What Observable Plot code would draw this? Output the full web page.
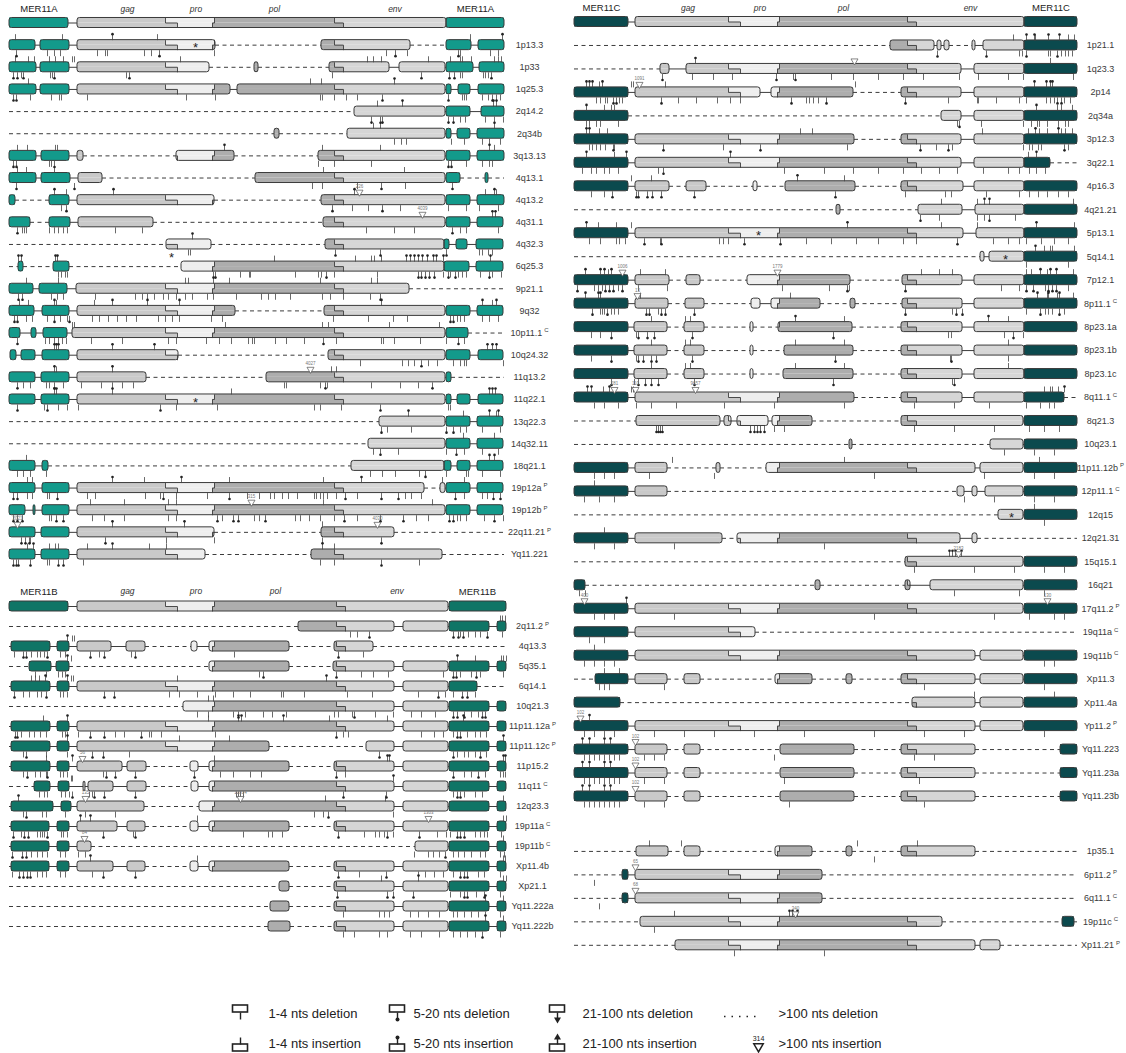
<!DOCTYPE html>
<html>
<head>
<meta charset="utf-8">
<script src="https://cdn.jsdelivr.net/npm/d3@7"></script>
<script src="https://cdn.jsdelivr.net/npm/@observablehq/plot@0.6"></script>
<style>
  body { margin: 0; background: #fff; }
  #fig { position: relative; width: 1126px; height: 1053px; font-family: "Liberation Sans", Arial, sans-serif; }
  #fig svg { position: absolute; background: transparent !important; overflow: visible; }
</style>
</head>
<body>
<div id="fig"></div>
<script>
// ---------------------------------------------------------------------------
// Consensus layout of each family (positions along the aligned consensus).
// top / bottom: boundaries gag|pro, pro|pol, pol|env in the upper / lower half
// of a box (the stepped junctions of the reading frames).
// ---------------------------------------------------------------------------
const consensusA = {ltrEnd: 59, intStart: 68, intEnd: 437, end: 495, top: [156, 205, 325], bottom: [168, 203, 334]};
const consensusB = {ltrEnd: 59, intStart: 68, intEnd: 439, end: 497, top: [156, 205, 327], bottom: [168, 203, 336]};
const consensusC = {ltrEnd: 54, intStart: 61, intEnd: 450, end: 503, top: [154, 205, 333], bottom: [166, 203, 342]};

// Segments: "start-end" pieces; "," = short join, "|" = >100 nts deletion (dashed)
// Indels: u/U/a = insertion 1-4 / 5-20 / 21-100 nts (above), d/D/v = deletion (below),
// t<pos>:<n> = insertion >100 nts, * = stop codon inside the box, _ = stop codon below.
const headerA = "0-59,68-437,437-495";
const headerB = "0-59,68-439,440-497";
const headerC = "0-54,61-450,450-503";

// ---------------- MER11A ----------------
const labelsA = ["1p13.3","1p33","1q25.3","2q14.2","2q34b","3q13.13","4q13.1","4q13.2","4q31.1","4q32.3","6q25.3","9p21.1","9q32","10p11.1^C","10q24.32","11q13.2","11q22.1","13q22.3","14q32.11","18q21.1","19p12a^P","19p12b^P","22q11.21^P","Yq11.221"];
const segmentsA = [
  "0-26,31-60,68-206|312-401|437-462,469-495",
  "0-27,31-60,68-200|245-249|320-380,390-436,437-464,470-495",
  "0-27,31-60,68-221,228-436,437-442,449-461,469-495",
  "345-436,437-461,472-495",
  "265-270|338-436,437-442,448-461,468-495",
  "0-27,32-60,68-74|167-225|309-436,437-461,468-495",
  "0-27,32-61,69-93|246-436,437-451|476-479",
  "0-6|40-60,68-205|312-436,437-461,468-495",
  "0-21|40-61,69-144|314-436,437-461,468-494",
  "157-202|316-435,435-440,447-458,467-494",
  "9-14|44-60|172-435,435-460,467-494",
  "0-24,30-58,67-400",
  "0-25,33-60,68-226|315-436,437-461,468-494",
  "0-11,22-27,34-58,63-436,437-459",
  "1-7,12-26,33-60,68-169|319-436,437-461,469-494",
  "0-26,32-60,68-137|257-436,437-442",
  "0-26,32-60,68-436,437-442,448-461,469-494",
  "370-436,437-461,468-494",
  "359-436,437-461,468-494",
  "0-26,33-39|342-435,435-442,448-461,468-494",
  "0-26,33-60,68-415|431-436,437-461,468-494",
  "0-16,24-26,33-60,68-436,437-461,468-494",
  "0-26,32-60,68-205|312-385",
  "0-26,32-60,68-196|302-433"
];
const indelsA = [
  "u6 u53 U103 u148 u461 U493 D7 d38 d45 d51 d88 d96 d98 d135 d142 D150 d205 d377 D386 d398 D449 d451 d481 d489 *186",
  "u6 u19 u25 u40 u46 u54 u63 u65 u171 u358 u364 u372 u419 u441 u451 u453 u462 u485 u489 u492 D4 D8 d12 D14 d41 d43 D45 d117 D120 d323 D412 D440 D445 d451 d453 d474 d476 d479 D482",
  "u19 u301 u312 U385 D4 D7 d21 d42 d50 d52 d78 d177 d206 d311 d313 d325 d337 d348 D373 D439 d453 d455 d457 d473 d479 D483 d487 d491",
  "u368 U393 U484 U487 D362 d371 D373 D439 D444 d451 d456 d476 d485 d494",
  "u364 U371 U485 d385 d392 d397 d442 d455 d473 d480 d491",
  "u8 u18 u46 u48 U215 u313 u371 U480 u485 D4 D7 d40 d42 d45 d309 d325 d362 D439 D442 d457 d473 d480 d483",
  "u8 u17 U45 u314 u395 D7 D65 d303 d313 d348 D372 d396 D443",
  "U45 u57 U104 U345 t350:226 u476 U485 u487 d52 D57 D323 d343 d359 D373 d391 d439 d457 d470 d489",
  "t413:4039 U483 U486 D8 d13 d15 d17 d40 d45 d49 d54 d58 d106 d133 d357 d385 d405 D443 d451 d457 d489",
  "U183 d179 d181 D326 D371 D437 d470 d473 d479 d483 _162",
  "U9 U12 U46 U48 u265 u346 u362 u365 u372 U397 U401 U405 U409 U413 U418 U424 U427 U434 U481 d49 d52 d56 d58 D204 D206 d231 d240 d241 d286 d309 d312 D317 d325 d368 D409 D412 D416 D420 D425 d434 D439 d441 D446 d449 d453 d457 d471 D480 d483 d492",
  "u17 u49 u176 u179 u204 u220 u311 u362 u368 D9 D13 d42 d48 d54 d86 d126 d133 d138 d145 d154 d159 d167 d176 d183 d198 d204 d227 d252 d259 d266 d281 d313 d321 d334 d361 D371",
  "u10 u19 U45 u47 u85 U103 U138 U170 U372 U473 u483 U487 D5 D8 d17 d23 d38 D45 d51 d58 D60 d83 d90 d99 d108 d117 d127 d149 d156 d163 d170 d202 d213 d324 d359 d384 d398 D441 D444 d448 d451 d455 d473 d480 d489",
  "u63 u65 u216 u313 u319 u380 u430 D8 d36 d40 d45 d49 d53 d57 d82 d113 d159 d167 d197 d210 d222 d239 d243 d245 d266 d277 d295 D314 d327 d372 d374 d385 d411 d437 D449 d455",
  "U45 U47 U49 U103 U145 U478 U483 U487 d351 d393 d399 d405 D412 d419 d428 d444 d451 d455 d457 d494",
  "U45 u47 U103 t301:4027 u322 u327 D8 d14 d21 d37 d40 D45 d54 d72 d92 d103 d113 d124 d275 d277 d311 D316 d318 d362 d391 d409 D423",
  "U45 U47 U103 u222 U480 U483 U486 D8 d35 D38 d49 d58 d69 D151 d167 d208 d305 d311 d332 D371 d439 d441 *186",
  "U399 u454 U480 u487 U489 D372 d378 d402 D437 D444 d451 d457 d473 d491",
  "u454 u485 d364 D371 d389 d437 D447 d455 d473 d489",
  "u17 U480 U485 d8 d14 d21 d37 d361 d373 d386 d410 D416 d437 d457 d459 d473 d491",
  "u18 u23 U103 u135 U172 u220 u314 U352 u433 u455 D4 D8 d18 d23 d38 d40 D48 d78 d86 d136 d151 D154 d167 d198 D220 d238 d250 d261 d265 d273 d279 d288 d305 d307 d311 d314 d318 d327 D336 d348 D372 D389 d396 d402 d412 D446 d455 d473 d478 D484 D491",
  "u81 u115 u159 u167 t242:315 u314 u423 D4 D8 D13 d40 d42 D47 D54 d83 d95 d115 d159 d167 D208 d213 D224 D229 d245 d250 D256 d286 d291 d300 d311 d325 D335 d348 D371 D394 d407 d419 D440 D444 d448 d451 d457 d475 D485 d494",
  "t8:2021 U103 U175 u313 t368:4030 D12 D16 D20 d21 D96 d157 d205 D313 D372",
  "u18 U24 u40 u46 u49 u78 U103 u140 u157 u313 u325 D4 D7 D9 D21 d38 d40 D49 D54 d74 d311 d325 D372 d410"
];

// ---------------- MER11B ----------------
const labelsB = ["2q11.2^P","4q13.3","5q35.1","6q14.1","10q21.3","11p11.12a^P","11p11.12c^P","11p15.2","11q11^C","12q23.3","19p11a^C","19p11b^C","Xp11.4b","Xp21.1","Yq11.222a","Yq11.222b"];
const segmentsB = [
  "289-385,394-439,440-480,488-497",
  "2-41,48-60,68-102,117-136|182-188,200-280|325-364",
  "20-42,47-60|200-280|324-385,394-439,440-480,488-497",
  "2-41,48-60,68-385,394-439,440-468",
  "174-385,394-439,440-480,488-497",
  "2-41,48-60,68-385,394-439,440-480,488-497",
  "2-41,48-60,68-260|357-385,394-439,440-480,488-497",
  "2-41,48-60,68-113,118-137|181-189,200-280|325-385,394-439,440-480,488-497",
  "25-41,49-60,74-76,79-104,118-137|182-189,200-385,394-439,440-480,488-497",
  "2-44,52-62,68-135|190-385,394-439,440-480,488-497",
  "2-40,48-60,68-108,118-136|181-189,200-280|325-385,394-439,440-480,488-497",
  "2-40,48-60,68-82|406-439,440-480,488-497",
  "2-40,48-60,68-104,118-136|181-189,200-280|325-385,394-439,440-480,488-497",
  "270-280|325-385,394-439,440-480,488-497",
  "261-280|325-385,394-439,440-480,488-497",
  "259-281|325-385,394-439,440-480,488-497"
];
const indelsB = [
  "u491 u493 u496 d341 d348 D360 D444 D449 d451 D454 d459 d466 d471 D478 d493",
  "U58 u63 u65 d5 D14 D17 d22 d28 d31 d35 D38 d51 d56 D81 d90 D95 d122 D126 d225 D329 d354",
  "U58 u62 U448 u466 u492 u494 u497 d26 d37 d49 d53 d56 d250 D254 D327 d352 d364 d379 d434 D444 D447 d451 d462 D467 d471 d494",
  "u22 u26 u30 U36 U58 u62 u64 u168 U317 D5 d14 d20 d28 d32 D37 d51 d54 d58 D95 D105 d160 d170 d188 d206 d224 d241 d272 d274 d295 d338 d363 d409 D429 d436 d444 D453 D458 d466",
  "u199 u204 d188 d199 d224 D229 d236 d254 d263 d277 d325 d329 d343 D345 d366 d384 d402 d412 d426 D444 D448 D455 d462 d469 D473 D476",
  "u34 U58 u199 U229 U232 U274 u320 u378 U454 D6 D8 d12 d20 d25 d31 d37 d53 d56 d58 d69 D81 D95 d106 d115 D132 d140 d142 d152 d206 D327 d334 d339 d412 d425 d434 d444 D448 D451 d458 d466 d471 d477",
  "U58 u170 u220 U494 d14 D17 d37 d58 D83 D94 d120 D370 D444 d448 d455 d459 d466 D471 d477",
  "u37 U63 t73:56 u205 U378 U380 U494 U496 d14 D18 d26 d31 d37 D38 d51 d54 d58 d94 D97 D106 D126 D185 d211 d224 d241 d252 D327 d336 D444 d455 d462 D469 d476 d491 d494 d496",
  "u62 u63 U384 d30 d35 d38 d52 d56 d60 D63 d80 d83 D85 D95 D126 d227 d229 d231 d234 D334 D377 d444 D448 D451 d455 d466 d473",
  "U9 t76:135 t231:12814 u316 u376 u494 d14 D17 d33 d37 d56 d76 d106 d305 d314 D319 d384",
  "U71 U81 u188 t419:1303 u494 u497 D4 d12 D15 D19 d28 d31 d33 d35 D38 d52 d54 d58 D94 d124 D126 d234 d259 d263 d273 D329 d355 d366 d370 d375 D378 d384 D410 d428 d437 d441 D448 D451 D455 d466 d471 d475 d478 d492",
  "t75:84 u494 D3 D13 D17 d22 d28 d33 d38 d51 d56 d69 d76 d405 d419 d424 d430 D436 d444 d449 d455 d462 d471 d476 d491 d495",
  "U81 u188 u494 u496 d3 D10 D14 D18 D21 d28 d33 d37 d51 d56 d83 D94 D126 D329 d350 D377 d409 d416 d425 d434 d444 D451 D455 D458 d469 d475 d491",
  "u372 U409 u494 u497 D328 D378 D384 D404 d441 d451 D455 D458 d467 D475 d491",
  "U476 u494 d334 d370 d375 d380 d401 d409 d419 d430 d444 d448 d455 d462 d469 d476 d491",
  "U476 u494 d334 d345 d370 d378 d401 d412 d430 d444 d451 d458 d466 D473 d491"
];

// ---------------- MER11C ----------------
const labelsC = ["1p21.1","1q23.3","2p14","2q34a","3p12.3","3q22.1","4p16.3","4q21.21","5p13.1","5q14.1","7p12.1","8p11.1^C","8p23.1a","8p23.1b","8p23.1c","8q11.1^C","8q21.3","10q23.1","11p11.12b^P","12p11.1^C","12q15","12q21.31","15q15.1","16q21","17q11.2^P","19q11a^C","19q11b^C","Xp11.3","Xp11.4a","Yp11.2^P","Yq11.223","Yq11.23a","Yq11.23b"];
const segmentsC = [
  "316-360,363-367,370-375|398-401,409-450,450-503",
  "86-95,112-387,400-450,450-503",
  "0-54,61-186,197-279|327-387,400-450,450-503",
  "0-54|367-387,400-450,450-503",
  "0-54,61-280|327-387,400-450,450-503",
  "0-54,61-387,400-450,450-476",
  "0-54,61-95|112-132|179-183|211-281|327-389,400-450,450-503",
  "262-266|344-388,401-450,450-503",
  "0-54,61-389,402-450,450-503",
  "406-410,415-450,450-503",
  "0-54,61-95|112-126|173-276|328-388,400-450,450-503",
  "0-54,61-94|111-130|177-186,197-246|276-281|328-388,400-450,450-503",
  "0-54,60-93|110-130|176-179|204-278|327-388,400-450,450-503",
  "0-54,60-93|110-130|176-179|210-279|327-388,400-450,450-503",
  "0-54,60-93|110-130|176-179|209-279|327-388,400-450,450-503",
  "0-54,61-280|327-388,400-450,450-490",
  "62-146,150-157,163-194,198-238|327-449,450-503",
  "275-278|416-449,450-503",
  "0-54,61-93|142-146|192-401,406-449,450-503",
  "0-54,61-93|383-390,398-403,411-449,450-503",
  "424-449,450-503",
  "0-54,61-148|163-386,398-403",
  "331-449,450-503",
  "0-11|241-246|331-336,356-449,450-503",
  "0-54,61-449,450-503",
  "0-54,61-181",
  "0-54,61-401,406-449,450-503",
  "21-54,61-93|110-126|201-238|272-278|327-401,406-449,450-503",
  "0-46|338-401,406-449,450-503",
  "0-54,61-401,406-449,450-503",
  "0-54,61-93|110-126|206-280|327-401|486-503",
  "0-54,61-93|110-126|206-280|327-401|486-503",
  "0-54,61-93|110-126|206-280|327-401|486-503"
];
const indelsC = [
  "u439 U452 U460 u461 U474 U485 u494 u500 D363 D412 d445 d448 D452 d474 d476 D483 d487 d491 d494 d498",
  "U121 t280: u476 D88 d118 d139 d158 D202 d219 D221 d257 d279 d304 d329 d349 d385 d404 d434 d449 d499",
  "U12 U15 U18 u25 U28 u57 u59 t65:1091 u91 u281 U460 U472 U476 U478 d22 d26 d31 d33 D39 D42 d45 d48 D87 d104 d122 d143 d156 d166 D217 d232 d235 d239 d244 D252 D331 d374 d403 d404 d422 d445 d452 d472 d476 d480 D483 D487 d490 d496",
  "U12 u30 u37 u40 U462 u483 u487 u498 d12 d15 d22 d26 d44 d383 D385 d407 d449 d457 d463 d465 d473 d484 d491 d494",
  "U12 U15 u25 u33 u226 u238 u408 u454 U461 u465 u473 U484 u487 u491 u498 d15 d18 d22 d26 d31 D39 d40 D89 d149 D186 d273 D346 d362 D374 d378 d449 d455 d458 d464 d467 D490 d494",
  "U12 u40 U52 U156 u454 U462 d8 d17 d22 d30 d35 d44 d84 D89 d210 d250 d279 d304 d329 d347 d365 d383 d409 d434 d445 d455 d462 d471",
  "u57 u77 U223 u270 d17 d30 D38 D62 D64 D73 D78 D87 D120 D261 d331 d371 d377 d412 d445 d455 d464 d473 d484 d494",
  "u367 u403 U410 U415 u499 D346 d365 d403 d410 D415 d441",
  "U12 u24 u42 u57 U273 u367 u403 U462 u500 d15 d26 d42 d45 d51 D70 d86 D87 d145 d149 d154 D170 D206 d232 d257 d282 d304 d329 d342 D383 d419 d434 d445 d452 d467 d480 d494 *184",
  "U461 u470 u476 u478 u500 d452 d494 *431",
  "U11 U26 U30 u34 U37 t48:1006 u66 u91 t203:1779 u347 u365 u378 u452 u457 U466 u473 U476 U482 u499 D3 d20 d24 d28 D31 D35 D39 d44 D48 d64 d93 d208 d255 D273 d275 D331 d427 d445 D452 D459 d471 D474 D478 D482 d494",
  "U11 U24 U26 t63:13 u66 u216 U463 u473 U474 u483 U485 u499 D18 d26 d28 d30 D33 d37 d40 d44 D72 D75 d84 D87 D91 D120 D331 d378 D382 D388 d452 D466 d471 d474 d478 D485 d490",
  "u77 u111 u116 U221 u270 U414 u434 d17 d26 D37 d62 D64 D73 D80 D118 D259 d374 d377 d430 D439 d449",
  "u77 u111 u116 u221 u270 u434 d17 D37 d62 D64 D69 D77 D82 D118 D261 d376 D377 d434",
  "u77 u111 u116 u221 u270 u434 D37 d60 D64 D71 D77 D84 D120 D259 d378 D380",
  "U13 U17 u29 U35 t40:281 u57 u59 t61:110 t121:9657 u470 u476 u478 u484 U490 d20 d30 d44 d62 d77 d102 d150 d200 d270 d340 d380 d415 d452 d466 d475 d480",
  "D82 D84 D86 D88 D176 D180 D183 D186 D190 d200 d210 d340 d380 d420 d455 d470 d485",
  "d430 d460 d480",
  "u98 u270 u465 d20 d30 d40 d75 d140 d300 d410 d460 d480",
  "u20 d10 d25 d40 d390 d420 d460 d480",
  "*437 u460 d470",
  "u30 d20 d40 d100 d250",
  "U375 U378 U381 t384:2183 U387 d340 d400 d440 d470 d490",
  "d5 d11 d380 d445 d470",
  "t10:400 U52 t473:130 d20 d30 d40 d100 d300 d420 d455 d480 d490",
  "d15 d30",
  "u20 d10 d20 d30 d40 d470 d480",
  "u30 u45 d25 d30 d35 d90 d350 d470",
  "u400 u480",
  "t6:102 U15 d10 d20 d30 d40 d80 d110 d140 d180 d230 d300 d350 d390 d470",
  "U8 U15 U30 U36 t61:102 d10 d15 d20 d25 d30 d35 d40 d45 d70 d80 d90 d200 d340 d360",
  "U8 U15 U30 U36 t61:102 d10 d15 d20 d25 d30 d35 d40 d45 d70 d90 d210 d345",
  "U8 U15 U30 U36 t61:102 d10 d15 d20 d25 d30 d35 d40 d45 d70 d90 d215 d350"
];
// solitary internal fragments shown below the MER11C set
const labelsC2 = ["1p35.1","6p11.2^P","6q11.1^C","19p11c^C","Xp11.21^P"];
const segmentsC2 = [
  "62-94|110-126|201-238|272-278|327-401",
  "48-54,61-248",
  "48-54,61-248",
  "66-368|488-500",
  "101-401,406-426"
];
const indelsC2 = [
  "u75 u107 u283 u343 d300",
  "t61:65 d20",
  "t61:68 d25",
  "u100 U215 U218 t221:340 U223 d80",
  "d160 d250"
];

// legend entries
const legendLabels = ["1-4 nts deletion","5-20 nts deletion","21-100 nts deletion",">100 nts deletion","1-4 nts insertion","5-20 nts insertion","21-100 nts insertion",">100 nts insertion"];
const legendKinds = ["d","D","v","gap","u","U","a","t"];

// ---------------------------------------------------------------------------
const regionFill = ["#c9c9c9", "#eeeeee", "#adadad", "#d6d6d6"]; // gag, pro, pol, env
const lineColor = "#3c3c3c";

function buildPanel(cfg) {
  const g = cfg.consensus;
  const hb = 5 / cfg.rowPx, tl = 6 / cfg.rowPx, px = 1 / cfg.rowPx;
  const rows = [{label: null, segs: cfg.header, indels: "", i: -1}];
  cfg.labels.forEach((l, k) => rows.push({label: l, segs: cfg.segments[k], indels: cfg.indels[k], i: cfg.rowIndex(k)}));

  const solid = [], dashed = [], fills = [], boxes = [], steps = [], ticks = [], dots = [], arrows = [], bigs = [], stars = [], names = [];
  for (const r of rows) {
    const y = r.i;
    const parts = r.segs.split(/([,|])/);
    const segs = [], joins = [];
    parts.forEach((p, k) => { if (k % 2) joins.push(p); else segs.push(p.split("-").map(Number)); });
    if (segs[0][0] > 1) dashed.push({x1: 0, x2: segs[0][0], y});
    joins.forEach((j, k) => (j === "|" ? dashed : solid).push({x1: segs[k][1], x2: segs[k + 1][0], y}));
    const last = segs[segs.length - 1][1];
    if (last < g.end - 1) dashed.push({x1: last, x2: g.end, y});

    for (const [s, e] of segs) {
      const mid = (s + e) / 2;
      if (mid < g.intStart || mid > g.intEnd) {
        fills.push({x1: s, x2: e, y1: y - hb, y2: y + hb, shade: cfg.teal});
      } else {
        [["top", y - hb, y], ["bottom", y, y + hb]].forEach(([h, y1, y2]) => {
          const edges = [-Infinity, ...g[h], Infinity];
          for (let k = 0; k < 4; k++) {
            const a = Math.max(s, edges[k]), b = Math.min(e, edges[k + 1]);
            if (b > a) fills.push({x1: a, x2: b, y1, y2, shade: regionFill[k]});
          }
        });
        for (let k = 0; k < 3; k++) {
          const tx = g.top[k], bx = g.bottom[k];
          if (tx > s && tx < e) steps.push({x1: tx, x2: tx, y1: y - hb, y2: y});
          const a = Math.max(s, Math.min(tx, bx)), b = Math.min(e, Math.max(tx, bx));
          if (b > a) steps.push({x1: a, x2: b, y1: y, y2: y});
          if (bx > s && bx < e) steps.push({x1: bx, x2: bx, y1: y, y2: y + hb});
        }
      }
      boxes.push({x1: s, x2: e, y1: y - hb, y2: y + hb});
    }

    for (const tok of r.indels.split(/\s+/).filter(Boolean)) {
      const kind = tok[0];
      const [p, lab] = tok.slice(1).split(":");
      const x = +p;
      if ("uUa".includes(kind)) {
        ticks.push({x, y1: y - hb, y2: y - hb - tl});
        if (kind === "U") dots.push({x, y: y - hb - tl});
        if (kind === "a") arrows.push({x, y: y - hb - tl, rot: 0});
      } else if ("dDv".includes(kind)) {
        ticks.push({x, y1: y + hb, y2: y + hb + tl});
        if (kind === "D") dots.push({x, y: y + hb + tl});
        if (kind === "v") arrows.push({x, y: y + hb + tl, rot: 180});
      } else if (kind === "t") {
        bigs.push({x, y: y - hb - 3 * px, ly: y - hb - 8.5 * px, label: lab || ""});
      } else if (kind === "*") {
        stars.push({x, y: y + 3 * px});
      } else if (kind === "_") {
        stars.push({x, y: y + hb + 8 * px});
      }
    }
    if (r.label) names.push({x: cfg.labelX, y, label: r.label});
  }

  const hy = -1 - cfg.headOffset / cfg.rowPx;
  const heads = [
    {t: cfg.title, x: g.ltrEnd / 2, y: hy},
    {t: cfg.title, x: (g.intEnd + g.end) / 2, y: hy}
  ];
  const frames = [
    {t: "gag", x: (g.intStart + g.top[0]) / 2 + 6, y: hy},
    {t: "pro", x: (g.bottom[0] + g.top[1]) / 2, y: hy},
    {t: "pol", x: (g.top[1] + g.top[2]) / 2, y: hy},
    {t: "env", x: (g.bottom[2] + g.intEnd) / 2, y: hy}
  ];

  const svg = Plot.plot({
    width: cfg.width,
    height: cfg.height,
    margin: 0,
    style: {background: "transparent", overflow: "visible", fontFamily: "Liberation Sans, Arial, sans-serif"},
    x: {domain: cfg.xDomain, range: cfg.xRange, axis: null},
    y: {domain: cfg.yDomain, range: cfg.yRange, axis: null},
    color: {type: "identity"},
    marks: [
      Plot.ruleY(dashed, {y: "y", x1: "x1", x2: "x2", stroke: lineColor, strokeWidth: 1, strokeDasharray: "4,3.5"}),
      Plot.ruleY(solid, {y: "y", x1: "x1", x2: "x2", stroke: lineColor, strokeWidth: 1}),
      Plot.rect(fills, {x1: "x1", x2: "x2", y1: "y1", y2: "y2", fill: "shade"}),
      Plot.link(steps, {x1: "x1", x2: "x2", y1: "y1", y2: "y2", stroke: lineColor, strokeWidth: 0.9}),
      Plot.rect(boxes, {x1: "x1", x2: "x2", y1: "y1", y2: "y2", fill: "none", stroke: "#3a3a3a", strokeWidth: 1, rx: 2.5}),
      Plot.link(ticks, {x1: "x", x2: "x", y1: "y1", y2: "y2", stroke: "#444", strokeWidth: 0.8}),
      Plot.dot(dots, {x: "x", y: "y", r: 1.3, fill: "#222", stroke: null}),
      Plot.dot(arrows, {x: "x", y: "y", r: 2, symbol: "triangle", rotate: "rot", fill: "#222", stroke: null}),
      Plot.dot(bigs, {x: "x", y: "y", r: 2.6, symbol: "triangle", rotate: 180, fill: "white", stroke: "#555", strokeWidth: 0.7}),
      Plot.text(bigs, {x: "x", y: "ly", text: "label", fontSize: 4.5, fill: "#777"}),
      Plot.text(stars, {x: "x", y: "y", text: () => "*", fontSize: 13, fill: "#222"}),
      Plot.text(names, {x: "x", y: "y", text: "label", fontSize: 9, fill: "#3a3a3a", textAnchor: "middle"}),
      Plot.text(heads, {x: "x", y: "y", text: "t", fontSize: 9.5, fill: "#222"}),
      Plot.text(frames, {x: "x", y: "y", text: "t", fontSize: 8.5, fill: "#333", fontStyle: "italic"})
    ]
  });
  placeSvg(svg, cfg.left, cfg.top);
  return svg;
}

function placeSvg(svg, left, top) {
  svg.style.left = left + "px";
  svg.style.top = top + "px";
  // "name^S" -> name with a small superscript letter
  svg.querySelectorAll("text").forEach(t => {
    const s = t.textContent;
    if (!s.includes("^")) return;
    const [main, sup] = s.split("^");
    t.textContent = main;
    const ts = document.createElementNS("http://www.w3.org/2000/svg", "tspan");
    ts.setAttribute("font-size", "6");
    ts.setAttribute("dy", "-3.5");
    ts.setAttribute("dx", "2");
    ts.textContent = sup;
    t.appendChild(ts);
  });
  document.getElementById("fig").appendChild(svg);
}

buildPanel({
  title: "MER11A", consensus: consensusA, teal: "#139a8b",
  header: headerA, labels: labelsA, segments: segmentsA, indels: indelsA, rowIndex: k => k,
  left: 0, top: 0, width: 560, height: 575,
  xDomain: [0, 495], xRange: [9, 504], yDomain: [-1, 23], yRange: [22.5, 554],
  rowPx: 22.14, labelX: 520, headOffset: 14
});

buildPanel({
  title: "MER11B", consensus: consensusB, teal: "#0f7566",
  header: headerB, labels: labelsB, segments: segmentsB, indels: indelsB, rowIndex: k => k,
  left: 0, top: 580, width: 560, height: 400,
  xDomain: [0, 497], xRange: [9, 506], yDomain: [-1, 15], yRange: [26, 346],
  rowPx: 20, labelX: 523, headOffset: 15
});

buildPanel({
  title: "MER11C", consensus: consensusC, teal: "#0b4a4e",
  header: headerC,
  labels: labelsC.concat(labelsC2),
  segments: segmentsC.concat(segmentsC2),
  indels: indelsC.concat(indelsC2),
  rowIndex: k => (k < labelsC.length ? k : k + 1.34),
  left: 560, top: 0, width: 566, height: 980,
  xDomain: [0, 503], xRange: [14, 517], yDomain: [-1, 32], yRange: [21.5, 796],
  rowPx: 23.47, labelX: 526, headOffset: 14
});

// ---------------- legend ----------------
(function legend() {
  const glyphX = [240, 397, 557, 742], textX = [268, 413, 582, 778], rowY = [23, 53];
  const items = legendLabels.map((label, k) => ({label, kind: legendKinds[k], gx: glyphX[k % 4], tx: textX[k % 4], y: rowY[Math.floor(k / 4)]}));
  const boxes = [], ticks = [], dots = [], arrows = [], gaps = [], bigs = [];
  for (const it of items) {
    if ("dDv".includes(it.kind)) {
      boxes.push({x1: it.gx - 7.5, x2: it.gx + 7.5, y1: it.y - 8, y2: it.y - 1});
      ticks.push({x: it.gx, y1: it.y - 1, y2: it.y + 6});
      if (it.kind === "D") dots.push({x: it.gx, y: it.y + 6});
      if (it.kind === "v") arrows.push({x: it.gx, y: it.y + 6, rot: 180});
    } else if ("uUa".includes(it.kind)) {
      boxes.push({x1: it.gx - 7.5, x2: it.gx + 7.5, y1: it.y + 1, y2: it.y + 8});
      ticks.push({x: it.gx, y1: it.y + 1, y2: it.y - 6});
      if (it.kind === "U") dots.push({x: it.gx, y: it.y - 6});
      if (it.kind === "a") arrows.push({x: it.gx, y: it.y - 6, rot: 0});
    } else if (it.kind === "gap") {
      gaps.push({x1: it.gx - 18, x2: it.gx + 18, y: it.y + 3});
    } else if (it.kind === "t") {
      bigs.push({x: it.gx + 16, y: it.y + 3, ly: it.y - 5, label: "314"});
    }
  }
  const svg = Plot.plot({
    width: 1126, height: 63, margin: 0,
    style: {background: "transparent", overflow: "visible", fontFamily: "Liberation Sans, Arial, sans-serif"},
    x: {domain: [0, 1126], range: [0, 1126], axis: null},
    y: {domain: [0, 63], range: [0, 63], axis: null},
    marks: [
      Plot.rect(boxes, {x1: "x1", x2: "x2", y1: "y1", y2: "y2", fill: "white", stroke: "#222", strokeWidth: 1.6}),
      Plot.link(ticks, {x1: "x", x2: "x", y1: "y1", y2: "y2", stroke: "#222", strokeWidth: 1.4}),
      Plot.dot(dots, {x: "x", y: "y", r: 2, fill: "#222", stroke: null}),
      Plot.dot(arrows, {x: "x", y: "y", r: 2.6, symbol: "triangle", rotate: "rot", fill: "#222", stroke: null}),
      Plot.ruleY(gaps, {y: "y", x1: "x1", x2: "x2", stroke: "#222", strokeWidth: 1.5, strokeDasharray: "1.5,6"}),
      Plot.dot(bigs, {x: "x", y: "y", r: 3.5, symbol: "triangle", rotate: 180, fill: "white", stroke: "#222", strokeWidth: 1.5}),
      Plot.text(bigs, {x: "x", y: "ly", text: "label", fontSize: 7, fill: "#222"}),
      Plot.text(items, {x: "tx", y: "y", text: "label", fontSize: 13, fill: "#222", textAnchor: "start"})
    ]
  });
  placeSvg(svg, 0, 990);
})();
</script>
</body>
</html>
